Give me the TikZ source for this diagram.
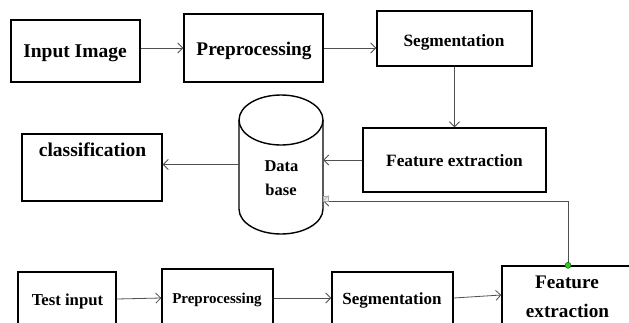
\documentclass[tikz,border=0pt]{standalone}
\usepackage{fontspec}
\setmainfont{Liberation Serif}
\usetikzlibrary{arrows.meta}
\definecolor{wire}{HTML}{505050}
\definecolor{dotgreen}{HTML}{33CC1A}
\tikzset{
  box/.style={draw=black, line width=1.4pt, fill=white, inner sep=0pt},
  lbl/.style={inner sep=0pt, anchor=base, font=\bfseries},
  arr/.style={draw=wire, line width=0.8pt, -{Straight Barb[length=5pt,width=10pt,line width=0.8pt]}},
}
\newcommand{\fs}[1]{\fontsize{#1}{#1}\selectfont}
\begin{document}
\begin{tikzpicture}[x=1pt,y=-1pt]
\useasboundingbox (0,0) rectangle (629,322);
\clip (0,0) rectangle (629,322);
\fill[white] (0,0) rectangle (629,322);

% training chain
\node[box, minimum width=129pt, minimum height=62pt] (inimg) at (75.5,51) {};
\node[lbl, font=\bfseries\fs{19.5}] (tinimg) at (75,57) {Input Image};
\node[box, minimum width=139pt, minimum height=68pt] (pre) at (253.5,48) {};
\node[lbl, font=\bfseries\fs{19.3}] (tpre) at (254,55) {Preprocessing};
\node[box, minimum width=155pt, minimum height=55pt] (seg) at (454.5,38.5) {};
\node[lbl, font=\bfseries\fs{17.3}] (tseg) at (454,46) {Segmentation};
\node[box, minimum width=183pt, minimum height=64pt] (fe) at (454.5,160) {};
\node[lbl, font=\bfseries\fs{17.3}] (tfe) at (454.5,166) {Feature extraction};
\node[box, minimum width=140pt, minimum height=67pt] (cls) at (92,167.5) {};
\node[lbl, font=\bfseries\fs{19.5}] (tcls) at (92.5,156) {classification};

% database cylinder
\node[inner sep=0pt, minimum width=84pt, minimum height=139pt] (db) at (281,164.5) {};
\draw[black, line width=1.4pt, fill=white]
  (239,120) -- (239,209) arc[start angle=180, end angle=360, x radius=42pt, y radius=25pt]
  -- (323,120);
\draw[black, line width=1.4pt] (281,120) ellipse [x radius=42pt, y radius=25pt];
\node[lbl, font=\bfseries\fs{16.5}] (tdata) at (281.5,171) {Data};
\node[lbl, font=\bfseries\fs{16.5}] (tbase) at (281,195) {base};

% test chain
\node[box, minimum width=98pt, minimum height=54pt] (test) at (67,299) {};
\node[lbl, font=\bfseries\fs{16.7}] (ttest) at (67.5,305) {Test input};
\node[box, minimum width=111pt, minimum height=58pt] (preb) at (217.5,298) {};
\node[lbl, font=\bfseries\fs{15}] (tpreb) at (217,303) {Preprocessing};
\node[box, minimum width=121pt, minimum height=52pt] (segb) at (392.5,298) {};
\node[lbl, font=\bfseries\fs{17}] (tsegb) at (392,304) {Segmentation};
\node[box, minimum width=132pt, minimum height=58pt] (feb) at (568,295) {};
\node[lbl, font=\bfseries\fs{19.2}] (tfeb1) at (567,288) {Feature};
\node[lbl, font=\bfseries\fs{19.2}] (tfeb2) at (567.5,317) {extraction};

% connectors
\draw[arr] (inimg.east |- pre.west) -- (pre.west);
\draw[arr] (pre.east) -- (pre.east -| seg.west);
\draw[arr] (seg.south) -- (seg.south |- fe.north);
\draw[arr] (fe.west) -- (fe.west -| db.east);
\draw[arr] (db.west) -- (db.west -| cls.east);
\draw[arr] (test.east) -- (preb.west);
\draw[arr] (preb.east) -- (segb.west);
\draw[arr] (segb.east) -- (feb.west);
\coordinate (dbin) at ([yshift=-36.5pt]db.east);
\draw[arr] (feb.north) |- (dbin);

% connection handles
\draw[gray!70, line width=0.5pt, fill=gray!15] (dbin) rectangle ++(5,-5);
\draw[gray!70, line width=0.5pt] (dbin) -- ++(5,-5);
\fill[dotgreen, draw=green!40!black, line width=0.5pt] (feb.north) circle (3pt);
\end{tikzpicture}
\end{document}
